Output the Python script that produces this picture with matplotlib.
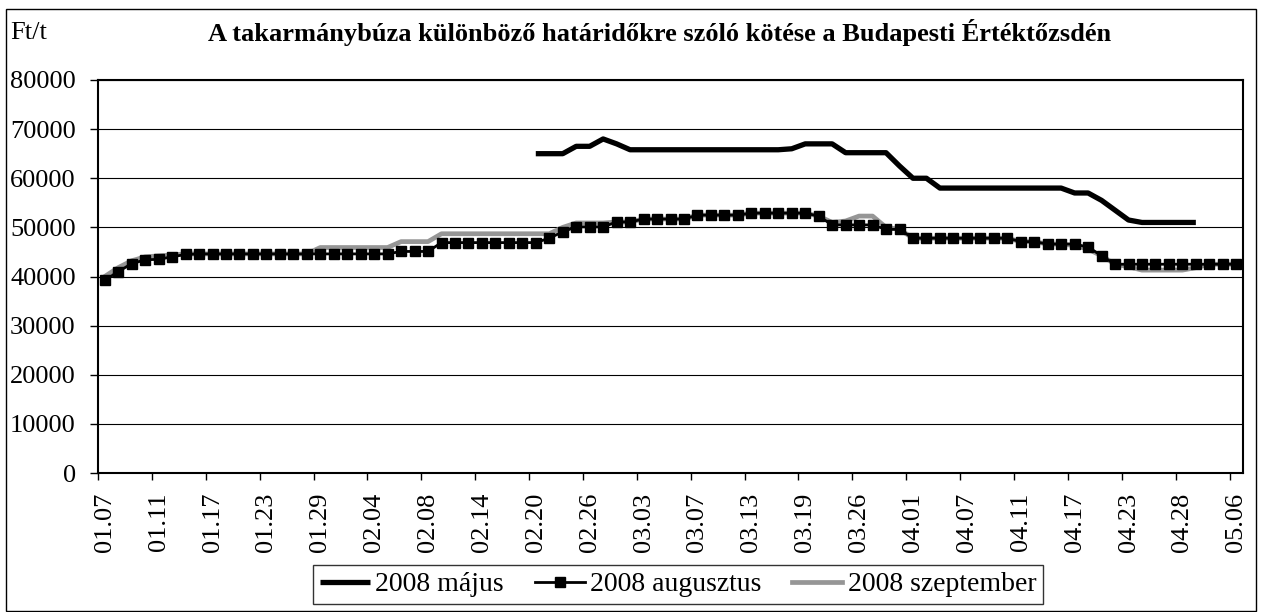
import numpy as np
import matplotlib
matplotlib.use("Agg")
import matplotlib.pyplot as plt
from matplotlib.patches import Rectangle

# kereskedesi napok (BET), 2008
dates = [
    "01.07", "01.08", "01.09", "01.10", "01.11", "01.14", "01.15", "01.16", "01.17", "01.18",
    "01.21", "01.22", "01.23", "01.24", "01.25", "01.28", "01.29", "01.30", "01.31", "02.01",
    "02.04", "02.05", "02.06", "02.07", "02.08", "02.11", "02.12", "02.13", "02.14", "02.15",
    "02.18", "02.19", "02.20", "02.21", "02.22", "02.25", "02.26", "02.27", "02.28", "02.29",
    "03.03", "03.04", "03.05", "03.06", "03.07", "03.10", "03.11", "03.12", "03.13", "03.14",
    "03.17", "03.18", "03.19", "03.20", "03.21", "03.25", "03.26", "03.27", "03.28", "03.31",
    "04.01", "04.02", "04.03", "04.04", "04.07", "04.08", "04.09", "04.10", "04.11", "04.14",
    "04.15", "04.16", "04.17", "04.18", "04.21", "04.22", "04.23", "04.24", "04.25", "04.26",
    "04.28", "04.29", "04.30", "05.05", "05.06",
]

# 2008 majus csak 02.20-tol van kotve
majus_start = "02.20"
majus = [
    65000, 65000, 65000, 66500, 66500, 68000, 67000, 65800, 65800, 65800,
    65800, 65800, 65800, 65800, 65800, 65800, 65800, 65800, 65800, 66000,
    67000, 67000, 67000, 65200, 65200, 65200, 65200, 62500, 60000, 60000,
    58000, 58000, 58000, 58000, 58000, 58000, 58000, 58000, 58000, 58000,
    57000, 57000, 55500, 53500, 51500, 51000, 51000, 51000, 51000, 51000,
]

augusztus = [
    39200, 41000, 42600, 43400, 43500, 44000, 44500, 44600, 44600, 44600,
    44600, 44600, 44600, 44600, 44600, 44600, 44600, 44600, 44600, 44600,
    44600, 44600, 45100, 45100, 45100, 46900, 46900, 46900, 46900, 46900,
    46900, 46900, 46900, 47800, 49100, 50100, 50100, 50100, 51100, 51100,
    51700, 51700, 51700, 51700, 52500, 52500, 52500, 52500, 52900, 52900,
    52900, 52900, 52900, 52300, 50500, 50500, 50500, 50500, 49600, 49600,
    47800, 47800, 47800, 47800, 47800, 47800, 47800, 47800, 47100, 47100,
    46600, 46600, 46600, 46000, 44200, 42500, 42500, 42500, 42500, 42500,
    42500, 42500, 42500, 42500, 42500,
]

szeptember = [
    40000, 41800, 43200, 44000, 44200, 44400, 44600, 44600, 44600, 44600,
    44600, 44600, 44600, 44600, 44600, 44600, 45900, 45900, 45900, 45900,
    45900, 45900, 47100, 47100, 47100, 48700, 48700, 48700, 48700, 48700,
    48700, 48700, 48700, 48700, 50000, 50900, 50900, 50900, 51100, 51100,
    51700, 51700, 51700, 51700, 52500, 52500, 52500, 52500, 52900, 52900,
    52900, 52900, 52900, 52300, 51000, 51300, 52300, 52300, 50000, 49600,
    47800, 47800, 47800, 47800, 47800, 47800, 47800, 47800, 47100, 47100,
    46600, 46600, 46300, 45600, 44200, 42500, 42000, 41300, 41300, 41300,
    41300, 41800, 42500, 42500, 42500,
]

plt.rcParams["font.family"] = ["Liberation Serif", "DejaVu Serif"]
FS = 19
W, H = 1262, 612

fig = plt.figure(figsize=(W / 100, H / 100), dpi=100)

# kulso keret
fig.patches.append(Rectangle((6 / W, 1 / H), 1250 / W, 602 / H, transform=fig.transFigure,
                             fill=False, edgecolor="black", linewidth=1.0))

ax = fig.add_axes([98 / W, (H - 473) / H, 1145 / W, 393 / H])

x = np.arange(len(dates))
i0 = dates.index(majus_start)
x_maj = np.arange(i0, i0 + len(majus))

ax.plot(x, szeptember, color="#969696", lw=3.4, zorder=2, label="2008 szeptember")
ax.plot(x, augusztus, color="black", lw=2.0, marker="s", ms=6.5, zorder=3, label="2008 augusztus")
ax.plot(x_maj, majus, color="black", lw=3.8, zorder=4, solid_capstyle="butt", label="2008 május")

ax.set_xlim(-0.5, len(dates) - 0.5)
ax.set_ylim(0, 80000)
ax.set_yticks(np.arange(0, 80001, 10000))
ax.yaxis.grid(True, color="black", lw=0.8)
ax.set_axisbelow(True)

ax.set_xticks(x[::4])
ax.set_xticklabels(dates[::4], rotation=90, fontsize=FS)
ax.set_xticks(np.arange(-0.5, len(dates), 4), minor=True)
ax.tick_params(axis="x", which="major", length=0, pad=14)
ax.tick_params(axis="x", which="minor", length=5, width=1)
ax.tick_params(axis="y", length=6, width=1, pad=10, labelsize=FS)

for s in ax.spines.values():
    s.set_linewidth(1.5)

fig.text(10 / W, 1 - 33 / H, "Ft/t", fontsize=FS, va="center", ha="left")
fig.text(660 / W, 1 - 33 / H, "A takarmánybúza különböző határidőkre szóló kötése a Budapesti Értéktőzsdén",
         fontsize=FS, fontweight="bold", va="center", ha="center")

h, l = ax.get_legend_handles_labels()
order = [2, 1, 0]
leg = fig.legend([h[k] for k in order], [l[k] for k in order], loc="upper center",
                 bbox_to_anchor=(678 / W, 1 - 565 / H), ncol=3, fontsize=20, frameon=True,
                 fancybox=False, edgecolor="black", handlelength=1.8, handletextpad=0.2,
                 columnspacing=1.1, borderpad=0.25, borderaxespad=0)
leg.get_frame().set_linewidth(1.0)

fig.savefig("out.png", dpi=100)
